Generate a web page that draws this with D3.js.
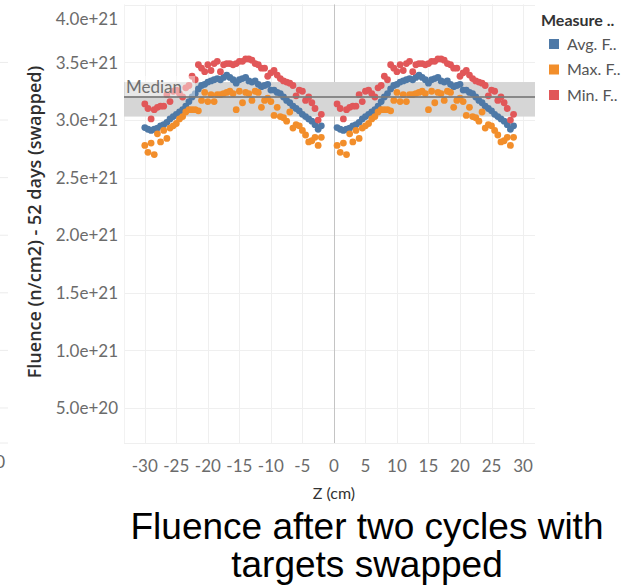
<!DOCTYPE html>
<html>
<head>
<meta charset="utf-8">
<script src="https://cdn.jsdelivr.net/npm/d3@7"></script>
<style>
  body { margin: 0; background: #fff; }
  svg { display: block; font-family: Lato, "Noto Sans", sans-serif; }
</style>
</head>
<body>
<svg id="chart" width="638" height="585"></svg>
<script>
// values, in units of 1e21 n/cm2
const UNIT = 1e21;
// z positions (cm) of the left half; the right half is the same profile after the swap
const zLeft = d3.range(-30, -1.75, 0.5);
const zShift = 30.5;

const avgF = [2.935, 2.92, 2.91, 2.92, 2.93, 2.95, 2.96, 2.98, 3.01, 3.03, 3.05, 3.07, 3.09, 3.12, 3.16, 3.20,
  3.23, 3.27, 3.30, 3.31, 3.33, 3.34, 3.35, 3.36, 3.35, 3.37, 3.39, 3.37, 3.35, 3.32, 3.35, 3.36, 3.37, 3.34,
  3.33, 3.34, 3.31, 3.29, 3.30, 3.31, 3.26, 3.26, 3.24, 3.23, 3.20, 3.17, 3.15, 3.12, 3.10, 3.08, 3.05, 3.03,
  3.01, 2.99, 2.96, 2.92, 2.95];
const maxF = [2.78, 2.72, 2.80, 2.70, 2.88, 2.81, 2.91, 2.84, 2.93, 2.95, 2.97, 3.01, 3.03, 3.07, 3.09, 3.09,
  3.09, 3.08, 3.17, 3.24, 3.16, 3.22, 3.16, 3.22, 3.22, 3.23, 3.24, 3.25, 3.23, 3.09, 3.25, 3.15, 3.24, 3.23,
  3.17, 3.25, 3.24, 3.11, 3.17, 3.19, 3.16, 3.04, 3.11, 3.03, 3.02, 2.99, 3.07, 2.93, 2.96, 2.95, 2.91, 2.87,
  2.81, 2.82, 2.85, 2.78, 2.85];
const minF = [3.14, 3.10, 3.01, 3.09, 3.11, 3.12, 3.12, 3.22, 3.16, 3.25, 3.26, 3.23, 3.20, 3.28, 3.30, 3.38,
  3.35, 3.48, 3.45, 3.42, 3.48, 3.43, 3.49, 3.51, 3.42, 3.48, 3.49, 3.49, 3.48, 3.49, 3.51, 3.51, 3.53, 3.53,
  3.52, 3.49, 3.48, 3.45, 3.45, 3.38, 3.41, 3.43, 3.39, 3.36, 3.34, 3.33, 3.32, 3.30, 3.21, 3.26, 3.25, 3.17,
  3.20, 3.15, 3.10, 3.00, 3.05];

const medianBand = [3.03, 3.33];
const medianValue = 3.20;

const xTicks = [-30, -25, -20, -15, -10, -5, 0, 5, 10, 15, 20, 25, 30];
const yTicks = [0.5, 1.0, 1.5, 2.0, 2.5, 3.0, 3.5, 4.0];

const measures = ["Avg. F..", "Max. F..", "Min. F.."];
const colors = ["#4e79a7", "#f28e2b", "#e15759"];
const seriesValues = [avgF, maxF, minF];

const svg = d3.select("#chart");
const plot = { left: 124, right: 535, top: 4.4, bottom: 443 };

const x = d3.scaleLinear().domain([-33.3, 31.9]).range([plot.left, plot.right]);
const y = d3.scaleLinear().domain([0.196 * UNIT, 4.004 * UNIT]).range([plot.bottom, plot.top]);
const fmt = d3.format(".1e");

// remnants of the neighbouring panel at the far left
const ghost = svg.append("g");
ghost.selectAll("line").data(yTicks.slice(0, 7)).join("line")
  .attr("x1", 0).attr("x2", 8)
  .attr("y1", d => y(d * UNIT)).attr("y2", d => y(d * UNIT))
  .attr("stroke", "#ececec");
ghost.append("line").attr("x1", 0).attr("x2", 8).attr("y1", plot.bottom).attr("y2", plot.bottom).attr("stroke", "#ececec");
ghost.append("text").attr("x", 5).attr("y", 468).attr("text-anchor", "end")
  .attr("fill", "#666").style("font-size", "17px").text("0");

// grid
const grid = svg.append("g");
grid.selectAll(".hg").data(yTicks).join("line")
  .attr("x1", plot.left).attr("x2", plot.right)
  .attr("y1", d => Math.round(y(d * UNIT)) + 0.5).attr("y2", d => Math.round(y(d * UNIT)) + 0.5)
  .attr("stroke", "#efefef");
grid.selectAll(".vg").data(xTicks.filter(d => d !== 0)).join("line")
  .attr("x1", d => Math.round(x(d)) + 0.5).attr("x2", d => Math.round(x(d)) + 0.5)
  .attr("y1", plot.top).attr("y2", plot.bottom)
  .attr("stroke", "#efefef");
grid.append("line")
  .attr("x1", plot.left + 0.5).attr("x2", plot.left + 0.5)
  .attr("y1", plot.top).attr("y2", plot.bottom).attr("stroke", "#f2f2f2");
grid.append("line")
  .attr("x1", plot.left).attr("x2", plot.right)
  .attr("y1", plot.bottom + 0.5).attr("y2", plot.bottom + 0.5).attr("stroke", "#efefef");
grid.append("line")
  .attr("x1", Math.round(x(0)) + 0.5).attr("x2", Math.round(x(0)) + 0.5)
  .attr("y1", plot.top).attr("y2", plot.bottom)
  .attr("stroke", "#c4c4c4");

// median band
svg.append("rect")
  .attr("x", plot.left).attr("width", plot.right - plot.left)
  .attr("y", y(medianBand[1] * UNIT)).attr("height", y(medianBand[0] * UNIT) - y(medianBand[1] * UNIT))
  .attr("fill", "#d6d6d6");

// points
const points = [];
seriesValues.forEach((vals, i) => {
  vals.forEach((v, j) => {
    points.push({ s: i, z: zLeft[j], v: v });
    points.push({ s: i, z: zLeft[j] + zShift, v: v });
  });
});
svg.append("g").selectAll("circle").data(points).join("circle")
  .attr("cx", d => x(d.z))
  .attr("cy", d => y(d.v * UNIT))
  .attr("r", 3.4)
  .attr("fill", d => colors[d.s]);

// median line and label
svg.append("line")
  .attr("x1", plot.left).attr("x2", plot.right)
  .attr("y1", y(medianValue * UNIT)).attr("y2", y(medianValue * UNIT))
  .attr("stroke", "#7a7a7a").attr("stroke-opacity", 0.85).attr("stroke-width", 2);
svg.append("rect")
  .attr("x", plot.left + 1).attr("y", 76).attr("width", 70).attr("height", 20)
  .attr("fill", "#fff").attr("opacity", 0.45);
svg.append("text")
  .attr("x", plot.left + 2).attr("y", 93)
  .attr("fill", "#6f6f6f").style("font-size", "17px").text("Median");

// y axis labels
svg.append("g").selectAll("text").data(yTicks).join("text")
  .attr("x", 118)
  .attr("y", d => d === 4.0 ? y(d * UNIT) + 14 : y(d * UNIT))
  .attr("dy", "0.36em")
  .attr("text-anchor", "end")
  .attr("fill", "#6b6b6b")
  .style("font-size", "17px")
  .text(d => fmt(d * UNIT));

// x axis labels
svg.append("g").selectAll("text").data(xTicks).join("text")
  .attr("x", d => x(d))
  .attr("y", 466)
  .attr("dy", "0.36em")
  .attr("text-anchor", "middle")
  .attr("fill", "#6b6b6b")
  .style("font-size", "17px")
  .text(d => d);

// axis titles
svg.append("text")
  .attr("transform", "translate(41,222) rotate(-90)")
  .attr("text-anchor", "middle")
  .attr("fill", "#2e2e2e")
  .style("font-family", "'Open Sans', 'Noto Sans', sans-serif")
  .style("font-size", "18px").style("font-weight", 600)
  .text("Fluence (n/cm2) - 52 days (swapped)");
svg.append("text")
  .attr("x", x(0)).attr("y", 499)
  .attr("text-anchor", "middle")
  .attr("fill", "#333")
  .style("font-size", "16px")
  .text("Z (cm)");

// legend
const legend = svg.append("g").attr("transform", "translate(541,0)");
legend.append("text").attr("x", 0).attr("y", 26)
  .attr("fill", "#333").style("font-size", "16px").style("font-weight", "bold")
  .text("Measure ..");
legend.selectAll("rect").data(measures).join("rect")
  .attr("x", 8).attr("y", (d, i) => 39 + i * 25.5)
  .attr("width", 10).attr("height", 10)
  .attr("fill", (d, i) => colors[i]);
legend.selectAll(".lt").data(measures).join("text")
  .attr("x", 26).attr("y", (d, i) => 44 + i * 25.5)
  .attr("dy", "0.36em")
  .attr("fill", "#555").style("font-size", "16px")
  .text(d => d);

// chart title
const title = svg.append("text")
  .attr("text-anchor", "middle")
  .attr("fill", "#000")
  .style("font-family", "'Liberation Sans', Arial, sans-serif")
  .style("font-size", "37px");
title.append("tspan").attr("x", 367).attr("y", 539).text("Fluence after two cycles with");
title.append("tspan").attr("x", 367).attr("y", 577).text("targets swapped");
</script>
</body>
</html>
